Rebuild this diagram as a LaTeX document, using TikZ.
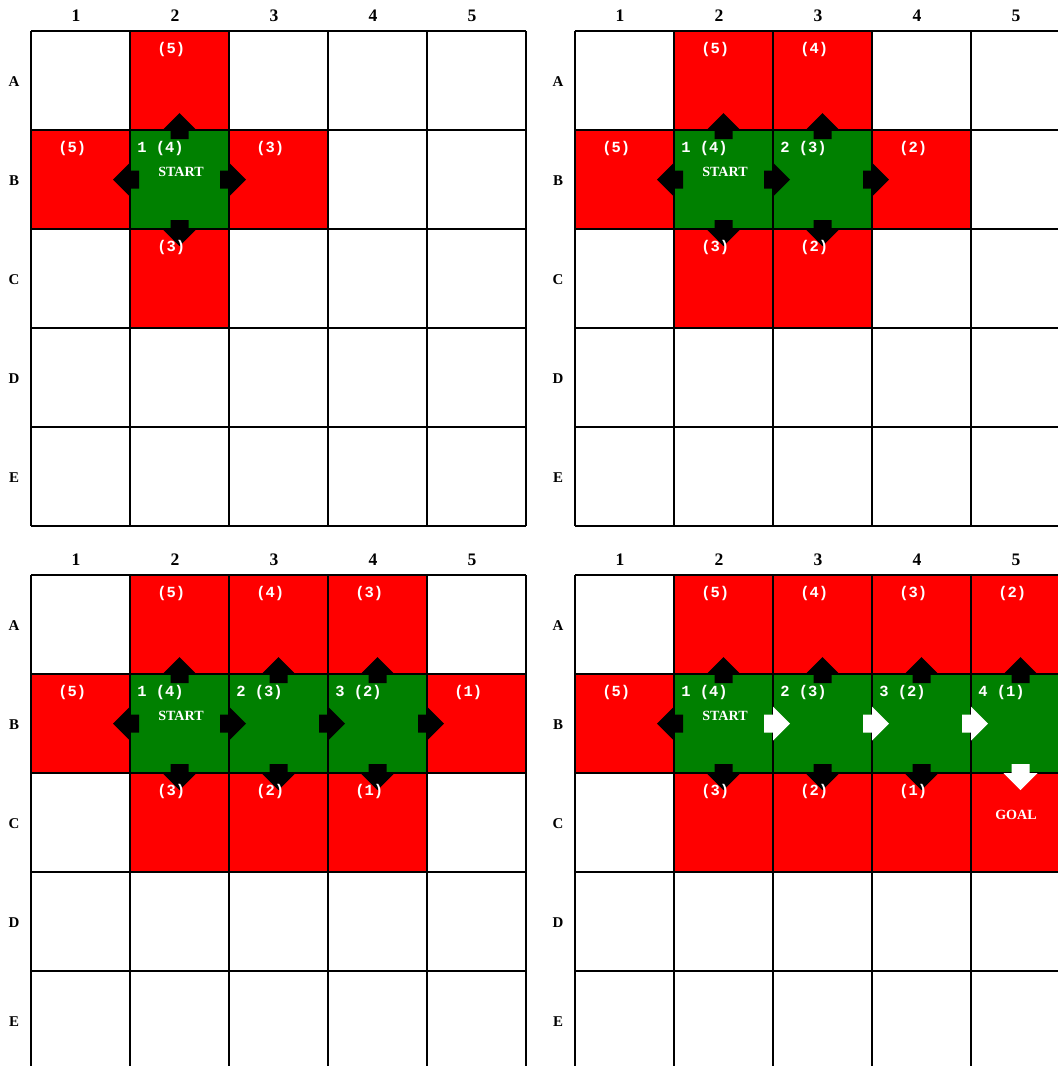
\documentclass[tikz,border=0pt]{standalone}
\usepackage{fontspec}
\setmainfont{Liberation Serif}
\newfontfamily\pixmono{Liberation Mono}
\usetikzlibrary{positioning}
\definecolor{openred}{HTML}{FF0000}
\definecolor{closedgreen}{HTML}{008000}
\tikzset{
  opencell/.style={fill=openred},
  closedcell/.style={fill=closedgreen},
  gridline/.style={draw=black,line width=.75pt},
  movearrow/.style={fill=black},
  patharrow/.style={fill=white},
  costtext/.style={anchor=base west,inner sep=0pt,text=white,font=\pixmono\bfseries\fontsize{8.8}{10}\selectfont},
  tagtext/.style={inner sep=0pt,text=white,font=\bfseries\fontsize{8}{9}\selectfont},
  colhead/.style={inner sep=0pt,font=\bfseries\fontsize{10}{12}\selectfont},
  rowhead/.style={inner sep=0pt,font=\bfseries\fontsize{8.5}{10}\selectfont},
}
% cells: style, column, row (A=1)
\newcommand{\paintcell}[3]{\fill[#1] ({(#2-1)*99},{(#3-1)*99}) rectangle ++(99,99);}
% block arrow: style, x, y, rotation (drawn pointing up)
\newcommand{\blockarrow}[4]{\fill[#1,shift={(#2,#3)},rotate=#4] (-9,9) -- (-9,0) -- (-17,0) -- (0,-17) -- (17,0) -- (9,0) -- (9,9) -- cycle;}
\newcommand{\arrup}[3]{\blockarrow{#1}{{(#2-1)*99+49.5}}{{(#3-1)*99}}{0}}
\newcommand{\arrdown}[3]{\blockarrow{#1}{{(#2-1)*99+49.5}}{{#3*99}}{180}}
\newcommand{\arrleft}[3]{\blockarrow{#1}{{(#2-1)*99}}{{(#3-1)*99+49.5}}{90}}
\newcommand{\arrright}[3]{\blockarrow{#1}{{#2*99}}{{(#3-1)*99+49.5}}{-90}}
% labels: name, column, row, ...
\newcommand{\costlbl}[4]{\node[costtext] (#1) at ({(#2-1)*99+27},{(#3-1)*99+22}) {(#4)};}
\newcommand{\steplbl}[5]{\node[costtext] (#1) at ({(#2-1)*99+7},{(#3-1)*99+22}) {#4 (#5)};}
\newcommand{\panelgrid}[1]{%
  \foreach \k in {0,...,5} {\draw[gridline] ({\k*99},0) -- ({\k*99},495); \draw[gridline] (0,{\k*99}) -- (495,{\k*99});}
  \foreach \c in {1,...,5} \node[colhead] (#1-col\c) at ({(\c-1)*99+45},-15) {\c};
  \foreach \r/\l in {1/A,2/B,3/C,4/D,5/E} \node[rowhead] (#1-row\l) at (-17,{(\r-1)*99+51}) {\l};
}

\begin{document}
\begin{tikzpicture}[x=0.02cm,y=-0.02cm]
  \path[use as bounding box] (0,0) rectangle (1058,1066);
  \clip (0,0) rectangle (1058,1066);
  \fill[white] (0,0) rectangle (1058,1066);

  % step 1
  \begin{scope}[shift={(31,31)}]
    \paintcell{opencell}{2}{1} \paintcell{opencell}{1}{2} \paintcell{opencell}{3}{2} \paintcell{opencell}{2}{3}
    \paintcell{closedcell}{2}{2}
    \panelgrid{a}
    \arrup{movearrow}{2}{2} \arrleft{movearrow}{2}{2} \arrright{movearrow}{2}{2} \arrdown{movearrow}{2}{2}
    \costlbl{a-A2}{2}{1}{5} \costlbl{a-B1}{1}{2}{5} \costlbl{a-B3}{3}{2}{3} \costlbl{a-C2}{2}{3}{3}
    \steplbl{a-B2}{2}{2}{1}{4}
    \node[tagtext] (a-start) at (150,141) {START};
  \end{scope}

  % step 2
  \begin{scope}[shift={(575,31)}]
    \paintcell{opencell}{2}{1} \paintcell{opencell}{3}{1} \paintcell{opencell}{1}{2} \paintcell{opencell}{4}{2}
    \paintcell{opencell}{2}{3} \paintcell{opencell}{3}{3}
    \paintcell{closedcell}{2}{2} \paintcell{closedcell}{3}{2}
    \panelgrid{b}
    \arrup{movearrow}{2}{2} \arrleft{movearrow}{2}{2} \arrright{movearrow}{2}{2} \arrdown{movearrow}{2}{2}
    \arrup{movearrow}{3}{2} \arrright{movearrow}{3}{2} \arrdown{movearrow}{3}{2}
    \costlbl{b-A2}{2}{1}{5} \costlbl{b-A3}{3}{1}{4} \costlbl{b-B1}{1}{2}{5} \costlbl{b-B4}{4}{2}{2}
    \costlbl{b-C2}{2}{3}{3} \costlbl{b-C3}{3}{3}{2}
    \steplbl{b-B2}{2}{2}{1}{4} \steplbl{b-B3}{3}{2}{2}{3}
    \node[tagtext] (b-start) at (150,141) {START};
  \end{scope}

  % step 3
  \begin{scope}[shift={(31,575)}]
    \paintcell{opencell}{2}{1} \paintcell{opencell}{3}{1} \paintcell{opencell}{4}{1} \paintcell{opencell}{1}{2}
    \paintcell{opencell}{5}{2} \paintcell{opencell}{2}{3} \paintcell{opencell}{3}{3} \paintcell{opencell}{4}{3}
    \paintcell{closedcell}{2}{2} \paintcell{closedcell}{3}{2} \paintcell{closedcell}{4}{2}
    \panelgrid{c}
    \arrup{movearrow}{2}{2} \arrleft{movearrow}{2}{2} \arrright{movearrow}{2}{2} \arrdown{movearrow}{2}{2}
    \arrup{movearrow}{3}{2} \arrright{movearrow}{3}{2} \arrdown{movearrow}{3}{2}
    \arrup{movearrow}{4}{2} \arrright{movearrow}{4}{2} \arrdown{movearrow}{4}{2}
    \costlbl{c-A2}{2}{1}{5} \costlbl{c-A3}{3}{1}{4} \costlbl{c-A4}{4}{1}{3} \costlbl{c-B1}{1}{2}{5}
    \costlbl{c-B5}{5}{2}{1} \costlbl{c-C2}{2}{3}{3} \costlbl{c-C3}{3}{3}{2} \costlbl{c-C4}{4}{3}{1}
    \steplbl{c-B2}{2}{2}{1}{4} \steplbl{c-B3}{3}{2}{2}{3} \steplbl{c-B4}{4}{2}{3}{2}
    \node[tagtext] (c-start) at (150,141) {START};
  \end{scope}

  % step 4: goal reached
  \begin{scope}[shift={(575,575)}]
    \paintcell{opencell}{2}{1} \paintcell{opencell}{3}{1} \paintcell{opencell}{4}{1} \paintcell{opencell}{5}{1}
    \paintcell{opencell}{1}{2} \paintcell{opencell}{2}{3} \paintcell{opencell}{3}{3} \paintcell{opencell}{4}{3}
    \paintcell{opencell}{5}{3}
    \paintcell{closedcell}{2}{2} \paintcell{closedcell}{3}{2} \paintcell{closedcell}{4}{2} \paintcell{closedcell}{5}{2}
    \panelgrid{d}
    \arrup{movearrow}{2}{2} \arrleft{movearrow}{2}{2} \arrdown{movearrow}{2}{2}
    \arrup{movearrow}{3}{2} \arrdown{movearrow}{3}{2}
    \arrup{movearrow}{4}{2} \arrdown{movearrow}{4}{2}
    \arrup{movearrow}{5}{2}
    \arrright{patharrow}{2}{2} \arrright{patharrow}{3}{2} \arrright{patharrow}{4}{2} \arrdown{patharrow}{5}{2}
    \costlbl{d-A2}{2}{1}{5} \costlbl{d-A3}{3}{1}{4} \costlbl{d-A4}{4}{1}{3} \costlbl{d-A5}{5}{1}{2}
    \costlbl{d-B1}{1}{2}{5} \costlbl{d-C2}{2}{3}{3} \costlbl{d-C3}{3}{3}{2} \costlbl{d-C4}{4}{3}{1}
    \steplbl{d-B2}{2}{2}{1}{4} \steplbl{d-B3}{3}{2}{2}{3} \steplbl{d-B4}{4}{2}{3}{2} \steplbl{d-B5}{5}{2}{4}{1}
    \node[tagtext] (d-start) at (150,141) {START};
    \node[tagtext] (d-goal) at (441,240) {GOAL};
  \end{scope}
\end{tikzpicture}
\end{document}
